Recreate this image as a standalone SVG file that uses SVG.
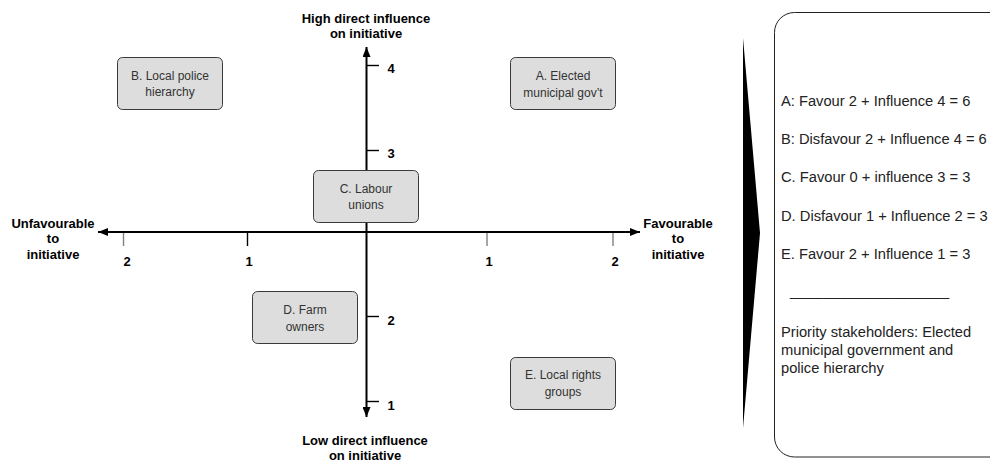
<svg xmlns="http://www.w3.org/2000/svg" width="990" height="462" viewBox="0 0 990 462">
<style>
.axis{stroke:#000;stroke-width:2;fill:none}
.tick{stroke:#000;stroke-width:1.4}
.tickg{stroke:#808080;stroke-width:1.4}
.lbl{font-family:"Liberation Sans",Arial,sans-serif;font-size:13px;font-weight:bold;fill:#000;text-anchor:middle}
.box{fill:#dddddd;stroke:#3a3a3a;stroke-width:1}
.bt{font-family:"Liberation Sans",Arial,sans-serif;font-size:12px;fill:#333;text-anchor:middle}
.pt{font-family:"Liberation Sans",Arial,sans-serif;font-size:14.7px;fill:#222}
</style>
<defs>
<marker id="arr" viewBox="0 0 10 8" refX="10" refY="4" markerWidth="10" markerHeight="8" markerUnits="userSpaceOnUse" orient="auto-start-reverse">
<path d="M0,0 L10,4 L0,8 z" fill="#000"/>
</marker>
</defs>
<rect width="990" height="462" fill="#fff"/>

<g id="connectors">
<line class="axis" x1="366.5" y1="417" x2="366.5" y2="47" marker-start="url(#arr)" marker-end="url(#arr)"/>
<line class="axis" x1="98" y1="232" x2="640" y2="232" marker-start="url(#arr)" marker-end="url(#arr)"/>
<line class="tick" x1="367" y1="65.5" x2="379" y2="65.5"/>
<line class="tick" x1="367" y1="150.5" x2="379" y2="150.5"/>
<line class="tick" x1="367" y1="316.5" x2="379" y2="316.5"/>
<line class="tick" x1="367" y1="401.5" x2="379" y2="401.5"/>
<line class="tickg" x1="123.5" y1="233" x2="123.5" y2="246"/>
<line class="tick" x1="247.5" y1="233" x2="247.5" y2="246"/>
<line class="tickg" x1="487" y1="233" x2="487" y2="246"/>
<line class="tickg" x1="613" y1="233" x2="613" y2="246"/>
</g>

<g id="axis-labels">
<text class="lbl" x="366" y="22.5">High direct influence</text>
<text class="lbl" x="366" y="38">on initiative</text>
<text class="lbl" x="365" y="444.5">Low direct influence</text>
<text class="lbl" x="365" y="459.5">on initiative</text>
<text class="lbl" x="53" y="227.5">Unfavourable</text>
<text class="lbl" x="53" y="243">to</text>
<text class="lbl" x="53" y="258.5">initiative</text>
<text class="lbl" x="678" y="227.5">Favourable</text>
<text class="lbl" x="678" y="243">to</text>
<text class="lbl" x="678" y="258.5">initiative</text>
<text class="lbl" x="391" y="72.5">4</text>
<text class="lbl" x="391" y="157.5">3</text>
<text class="lbl" x="391" y="324.5">2</text>
<text class="lbl" x="391" y="409.5">1</text>
<text class="lbl" x="127" y="266">2</text>
<text class="lbl" x="249" y="266">1</text>
<text class="lbl" x="489" y="266">1</text>
<text class="lbl" x="615" y="266">2</text>
</g>

<g id="node-a">
<rect class="box" x="510.5" y="57.5" width="105" height="52" rx="5"/>
<text class="bt" x="563" y="80">A. Elected</text>
<text class="bt" x="563" y="97">municipal gov’t</text>
</g>
<g id="node-b">
<rect class="box" x="117.5" y="57.5" width="105" height="52" rx="5"/>
<text class="bt" x="170" y="80">B. Local police</text>
<text class="bt" x="170" y="96">hierarchy</text>
</g>
<g id="node-c">
<rect class="box" x="313.5" y="170.5" width="105" height="52" rx="5"/>
<text class="bt" x="366" y="193">C. Labour</text>
<text class="bt" x="366" y="209">unions</text>
</g>
<g id="node-d">
<rect class="box" x="252.5" y="291.5" width="105" height="52" rx="5"/>
<text class="bt" x="305" y="314">D. Farm</text>
<text class="bt" x="305" y="331">owners</text>
</g>
<g id="node-e">
<rect class="box" x="510.5" y="357.5" width="105" height="52" rx="5"/>
<text class="bt" x="563" y="379">E. Local rights</text>
<text class="bt" x="563" y="396">groups</text>
</g>

<g id="chevron">
<polygon points="743,38 760,233 743,428" fill="#000"/>
</g>

<g id="summary-panel">
<rect x="774.5" y="12.5" width="240" height="444.5" rx="20" fill="#fff" stroke="#222" stroke-width="1"/>
<text class="pt" x="781" y="106">A: Favour 2 + Influence 4 = 6</text>
<text class="pt" x="781" y="144">B: Disfavour 2 + Influence 4 = 6</text>
<text class="pt" x="781" y="182">C. Favour 0 + influence 3 = 3</text>
<text class="pt" x="781" y="221">D. Disfavour 1 + Influence 2 = 3</text>
<text class="pt" x="781" y="259">E. Favour 2 + Influence 1 = 3</text>
<text class="pt" x="790" y="296" textLength="159" lengthAdjust="spacingAndGlyphs">___________________</text>
<text class="pt" x="781" y="337">Priority stakeholders: Elected</text>
<text class="pt" x="781" y="355">municipal government and</text>
<text class="pt" x="781" y="373">police hierarchy</text>
</g>
</svg>
